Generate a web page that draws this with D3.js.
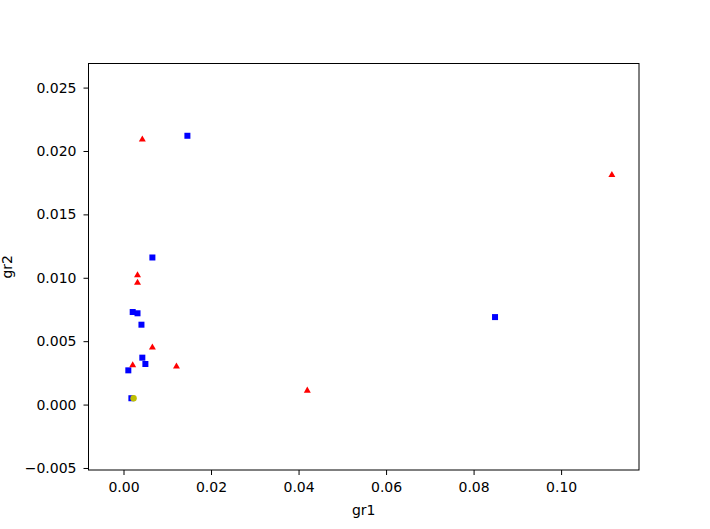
<!DOCTYPE html>
<html>
<head>
<meta charset="utf-8">
<script src="https://cdn.jsdelivr.net/npm/d3@7"></script>
<style>
  body { margin: 0; background: #fff; }
  svg text { font-family: "DejaVu Sans", sans-serif; }
</style>
</head>
<body>
<svg class="canvas" width="710" height="529"></svg>
<script>
// blue squares
const blueX = [0.0146, 0.0066, 0.0021, 0.0032, 0.0041, 0.0043, 0.0050, 0.0011, 0.0018, 0.0849];
const blueY = [0.0212, 0.0116, 0.0073, 0.0072, 0.0063, 0.0037, 0.0032, 0.0027, 0.0005, 0.0069];
// red triangles
const redX = [0.0043, 0.0032, 0.0032, 0.0066, 0.0021, 0.0121, 0.0420, 0.1116];
const redY = [0.0209, 0.0102, 0.0096, 0.0045, 0.0031, 0.0030, 0.0011, 0.0181];
// yellow circle
const yellowX = [0.0023];
const yellowY = [0.0005];

const xTicks = [0.00, 0.02, 0.04, 0.06, 0.08, 0.10];
const yTicks = [-0.005, 0.000, 0.005, 0.010, 0.015, 0.020, 0.025];

const margin = { left: 88.5, right: 71, top: 63.5, bottom: 59 };
const width = 710, height = 529;

const svg = d3.select(".canvas");

const x = d3.scaleLinear()
  .domain([-0.0080, 0.1178])
  .range([margin.left, width - margin.right]);
const y = d3.scaleLinear()
  .domain([-0.00516, 0.0269])
  .range([height - margin.bottom, margin.top]);

const xAxis = svg.append("g")
  .attr("transform", `translate(0,${height - margin.bottom})`)
  .call(d3.axisBottom(x).tickValues(xTicks).tickFormat(d3.format(".2f")).tickSize(5).tickPadding(7));
const yAxis = svg.append("g")
  .attr("transform", `translate(${margin.left},0)`)
  .call(d3.axisLeft(y).tickValues(yTicks)
    .tickFormat(d => d3.format(".3f")(d).replace("-", "\u2212")).tickSize(5).tickPadding(7));

[xAxis, yAxis].forEach(a => {
  a.select(".domain").remove();
  a.selectAll("text").attr("font-size", 14).attr("fill", "#000");
  a.selectAll("line").attr("stroke", "#000");
});

// frame
svg.append("rect")
  .attr("x", margin.left)
  .attr("y", margin.top)
  .attr("width", width - margin.left - margin.right)
  .attr("height", height - margin.top - margin.bottom)
  .attr("fill", "none")
  .attr("stroke", "#000")
  .attr("stroke-width", 1);

const plot = svg.append("g");

const sq = 6;
plot.selectAll("rect.blue")
  .data(d3.zip(blueX, blueY))
  .enter()
  .append("rect")
  .attr("class", "blue")
  .attr("x", d => x(d[0]) - sq / 2)
  .attr("y", d => y(d[1]) - sq / 2)
  .attr("width", sq)
  .attr("height", sq)
  .attr("fill", "#0000ff");

const tri = d3.symbol().type(d3.symbolTriangle).size(21);
plot.selectAll("path.red")
  .data(d3.zip(redX, redY))
  .enter()
  .append("path")
  .attr("class", "red")
  .attr("d", tri)
  .attr("transform", d => `translate(${x(d[0])},${y(d[1])})`)
  .attr("fill", "#ff0000");

plot.selectAll("circle.yellow")
  .data(d3.zip(yellowX, yellowY))
  .enter()
  .append("circle")
  .attr("class", "yellow")
  .attr("cx", d => x(d[0]))
  .attr("cy", d => y(d[1]))
  .attr("r", 3.2)
  .attr("fill", "#bfbf00");

// axis labels
svg.append("text")
  .attr("x", (margin.left + width - margin.right) / 2)
  .attr("y", height - 14)
  .attr("text-anchor", "middle")
  .attr("font-size", 14)
  .text("gr1");
svg.append("text")
  .attr("transform", `translate(12,${(margin.top + height - margin.bottom) / 2}) rotate(-90)`)
  .attr("text-anchor", "middle")
  .attr("font-size", 14)
  .text("gr2");
</script>
</body>
</html>
